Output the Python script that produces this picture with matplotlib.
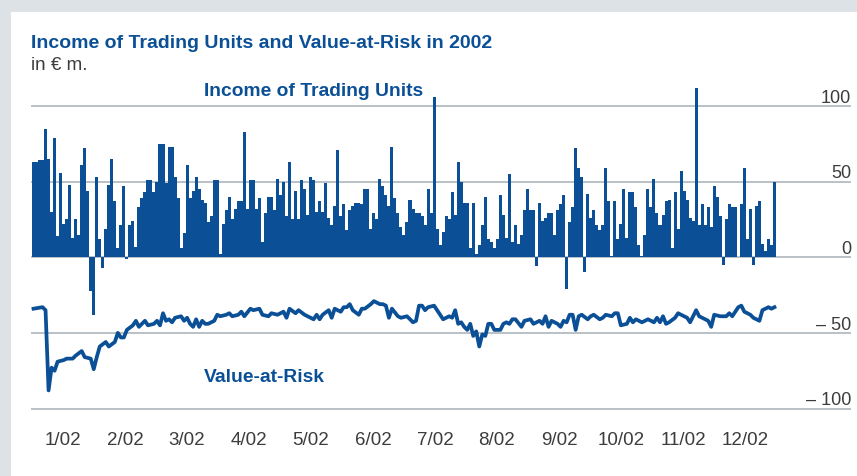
import numpy as np
import matplotlib.pyplot as plt
from matplotlib.patches import Rectangle

# daily income of trading units, EUR m (one bar per trading day)
income = [
    63, 63, 64, 64, 85, 65, 30, 79, 14, 56, 22, 25, 48, 13, 25, 15, 61, 72, 44, -22,
    -38, 53, 12, -7, 19, 48, 65, 37, 6, 21, 47, -1, 21, 24, 7, 33, 39, 43, 51, 51,
    43,
    50, 75, 75, 49, 73, 73, 53, 39, 6, 16, 61, 39, 44, 53, 45, 38, 36, 23, 27, 51,
    51, 2, 22, 31, 40, 25, 32, 37, 37, 83, 32, 51, 51, 32, 39, 10, 29, 40, 40, 31,
    52,
    41, 50, 27, 63, 25, 44, 25, 51, 45, 28, 53, 51, 30, 37, 30, 49, 26, 21, 34, 71,
    27, 35, 18, 31, 34, 36, 36, 35, 45, 45, 19, 29, 25, 52, 47, 41, 34, 73, 39, 29,
    20,
    15, 23, 38, 32, 29, 29, 27, 21, 45, 29, 106, 19, 8, 17, 27, 25, 43, 28, 63, 50,
    36, 36, 6, 36, 2, 8, 21, 40, 12, 10, 6, 12, 41, 28, 13, 55, 10, 21, 9, 15,
    31,
    45, 31, 31, -6, 36, 24, 26, 29, 29, 15, 31, 35, 41, -21, 23, 33, 72, 59, 53, -10,
    42, 26, 31, 21, 18, 21, 59, 37, 1, 37, 12, 22, 45, 13, 43, 43, 33, 8, 1, 15,
    45,
    33, 52, 29, 21, 28, 37, 38, 6, 43, 19, 57, 44, 38, 26, 24, 112, 21, 35, 21, 33,
    20, 47, 40, 27, -5, 25, 35, 33, 33, 0, 35, 59, 12, 32, -5, 34, 37, 9, 4, 12,
    8, 50,
]

# value-at-risk, EUR m, read at these trading days
var_day = [
    0, 3, 4, 5, 6, 7, 8, 10, 11, 13, 14, 16, 17, 19, 20, 21, 22, 24, 25, 27,
    28, 29, 30, 31, 33, 34, 35, 37, 38,
    40, 41, 42, 43, 44, 45, 46, 47, 49, 50, 51, 52, 53, 54, 55, 56, 57, 58, 60, 61,
    62, 64, 65, 66, 68, 69, 70, 72, 73, 75, 76, 78, 79,
    81, 83, 84, 85, 87, 88, 90, 91, 93, 94, 95, 96, 98, 99, 100, 102, 103, 104, 105, 106,
    108, 109, 110, 112, 113, 115, 116, 117, 118, 119, 121,
    122, 124, 126, 127, 128, 129, 130, 131, 133, 134, 136, 138, 139, 140, 141, 142, 143, 144,
    145, 146, 147, 148, 149, 150, 151, 152, 153, 155, 156, 157, 158, 159, 160, 162,
    163, 165, 166, 168, 169, 170, 171, 172, 174, 175, 176, 177, 178, 179, 180, 181, 182, 184,
    185, 186, 188, 189, 190, 192, 193, 194, 195, 197, 198, 199, 200, 202, 203,
    204, 206, 207, 208, 209, 210, 211, 213, 214, 216, 217, 218, 220, 221, 223, 224, 225, 226,
    228, 230, 231, 232, 234, 235, 236, 238, 239, 241, 242, 244, 245, 246,
]
var_value = [
    -34, -33, -35, -88, -73, -75, -69, -68, -67, -67, -65, -62, -66, -67, -74, -66, -59, -56, -59, -56,
    -50, -53, -53, -48, -45, -42, -46, -42, -45,
    -44, -42, -45, -37, -42, -41, -43, -40, -39, -42, -40, -44, -46, -41, -46, -42, -44, -44, -42, -38,
    -39, -38, -37, -39, -38, -36, -39, -34, -35, -34, -38, -39, -37,
    -38, -36, -40, -34, -37, -35, -38, -39, -41, -38, -41, -38, -35, -40, -34, -36, -33, -33, -31, -35,
    -38, -34, -34, -31, -29, -31, -31, -32, -40, -34, -39,
    -40, -39, -43, -42, -32, -32, -35, -33, -32, -35, -41, -39, -40, -35, -44, -43, -46, -48,
    -44, -52, -49, -59, -51, -52, -44, -44, -48, -48, -44, -43, -44, -41, -41, -46,
    -42, -41, -44, -42, -44, -39, -46, -42, -44, -46, -42, -43, -38, -38, -48, -39, -38, -41,
    -39, -38, -41, -40, -38, -39, -37, -37, -45, -44, -40, -43, -41, -43, -42,
    -41, -43, -40, -43, -39, -44, -43, -40, -37, -39, -40, -43, -35, -39, -41, -42, -46, -38,
    -39, -39, -37, -39, -33, -32, -36, -38, -40, -42, -35, -33, -34, -33,
]

months = ["1/02", "2/02", "3/02", "4/02", "5/02", "6/02",
          "7/02", "8/02", "9/02", "10/02", "11/02", "12/02"]
levels = [100, 50, 0, -50, -100]
level_labels = ["100", "50", "0", "\u2013 50", "\u2013 100"]

blue = "#0b5096"
grey_text = "#3c3c3c"
plt.rcParams["font.family"] = ["Liberation Sans", "DejaVu Sans"]

fig = plt.figure(figsize=(8.57, 4.77), dpi=100)
fig.patch.set_facecolor("#dde2e6")
# white panel
fig.patches.append(Rectangle((11 / 857, 0), 1, 464 / 477, transform=fig.transFigure,
                             facecolor="white", edgecolor="none", zorder=-10))

ax = fig.add_axes([31 / 857, 57 / 477, 820 / 857, 335 / 477])
ax.set_facecolor("none")
n = len(income)
days = np.arange(n)
ax.bar(days, income, width=1.0, color=blue, linewidth=0, zorder=3)
ax.plot(var_day, var_value, color=blue, linewidth=2.7, solid_joinstyle="round", zorder=4)

for lv, lab in zip(levels, level_labels):
    ax.axhline(lv, color="#b9c0c6", linewidth=1.4, zorder=1)
    ax.text(1.0, lv + 2.8, lab, transform=ax.get_yaxis_transform(), ha="right",
            va="baseline", fontsize=13, color=grey_text)

ax.set_xlim(-0.83, -0.83 + 820 / 3.012)
ax.set_ylim(-106.9, 114.5)
ax.set_xticks([(i + 0.5) * n / 12 - 0.5 for i in range(12)])
ax.set_xticklabels(months, fontsize=13.5, color=grey_text)
ax.tick_params(axis="x", length=0, pad=9)
ax.set_yticks([])
for s in ax.spines.values():
    s.set_visible(False)

fig.text(31 / 857, 1 - 43 / 477, "Income of Trading Units and Value-at-Risk in 2002",
         fontsize=14, fontweight="bold", color=blue, va="center")
fig.text(31 / 857, 1 - 66 / 477, "in \u20ac m.", fontsize=13.5, color=grey_text, va="center")
fig.text(204 / 857, 1 - 92 / 477, "Income of Trading Units", fontsize=13.9,
         fontweight="bold", color=blue, va="center")
fig.text(204 / 857, 1 - 378 / 477, "Value-at-Risk", fontsize=13.9,
         fontweight="bold", color=blue, va="center")

fig.savefig("out.png", dpi=100, facecolor=fig.get_facecolor())
